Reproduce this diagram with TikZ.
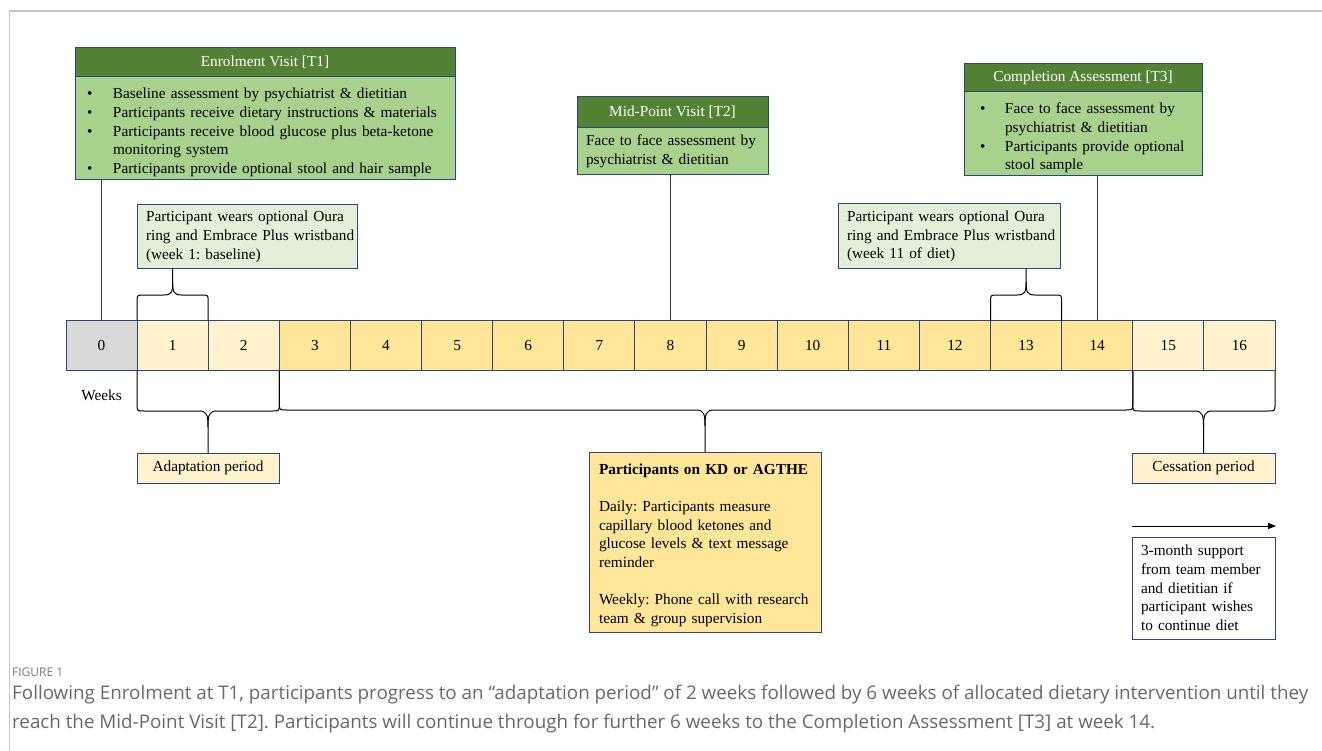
\documentclass[tikz,border=0pt]{standalone}
\usepackage{fontspec}
\setmainfont{Liberation Serif}
\newfontfamily\capfont{Open Sans}
\usetikzlibrary{calc,arrows.meta}

\definecolor{hdgreen}{HTML}{548235}
\definecolor{bdgreen}{HTML}{A9D18E}
\definecolor{ltgreen}{HTML}{E2F0D9}
\definecolor{navy}{HTML}{2A467C}
\definecolor{cgrey}{HTML}{D9D9D9}
\definecolor{lyellow}{HTML}{FFF2CC}
\definecolor{dyellow}{HTML}{FFE699}
\definecolor{framegrey}{HTML}{C4C4C4}
\definecolor{captxt}{HTML}{686868}
\definecolor{linegrey}{HTML}{3A3A3A}

\newcommand{\mytxt}{\fontsize{15.3}{18.7}\selectfont\frenchspacing}
\newcommand{\bul}[2][26pt]{\par\hangindent=#1\hangafter=1\noindent\makebox[#1][l]{\textbullet}#2\par}

% brace with tip above (#3), ends at #1 and #2 below
\newcommand{\upbr}[3]{%
  \draw[brc] (#1) -- ($(#1 |- #3)+(0,33)$) .. controls ($(#1 |- #3)+(0,26)$) .. ($(#1 |- #3)+(7,26)$)
     -- ($(#3)+(-9,26)$) .. controls ($(#3)+(-1,26)$) and ($(#3)+(0,23)$) .. ($(#3)+(0,13)$) -- (#3);
  \draw[brc] (#2) -- ($(#2 |- #3)+(0,33)$) .. controls ($(#2 |- #3)+(0,26)$) .. ($(#2 |- #3)+(-7,26)$)
     -- ($(#3)+(9,26)$) .. controls ($(#3)+(1,26)$) and ($(#3)+(0,23)$) .. ($(#3)+(0,13)$);
}
% brace with tip below (#3), ends at #1 and #2 above
\newcommand{\dnbr}[3]{%
  \draw[brc] (#1) -- ($(#1 |- #3)+(0,-49)$) .. controls ($(#1 |- #3)+(0,-42)$) .. ($(#1 |- #3)+(7,-42)$)
     -- ($(#3)+(-9,-42)$) .. controls ($(#3)+(-1,-42)$) and ($(#3)+(0,-38)$) .. ($(#3)+(0,-26)$) -- (#3);
  \draw[brc] (#2) -- ($(#2 |- #3)+(0,-49)$) .. controls ($(#2 |- #3)+(0,-42)$) .. ($(#2 |- #3)+(-7,-42)$)
     -- ($(#3)+(9,-42)$) .. controls ($(#3)+(1,-42)$) and ($(#3)+(0,-38)$) .. ($(#3)+(0,-26)$);
}

\begin{document}
\begin{tikzpicture}[x=1pt,y=-1pt,
  box/.style={draw=navy, line width=1pt, inner sep=0pt, outer sep=0pt, font=\mytxt},
  hdr/.style={box, fill=hdgreen, text=white, anchor=north west},
  gbody/.style={box, fill=bdgreen, anchor=north west, align=left},
  note/.style={box, anchor=north west, align=left, inner xsep=9pt},
  cell/.style={box, minimum width=71.118pt, minimum height=50.5pt},
  conn/.style={draw=linegrey, line width=1.2pt},
  brc/.style={draw=black, line width=1pt},
]
\useasboundingbox (0,0) rectangle (1322,751);
\fill[white] (0,0) rectangle (1322,751);
\draw[framegrey, line width=1.5pt] (9.5,751) -- (9.5,11) -- (1322,11);

% timeline
\foreach \i/\col in {0/cgrey,1/lyellow,2/lyellow,3/dyellow,4/dyellow,5/dyellow,6/dyellow,7/dyellow,8/dyellow,9/dyellow,10/dyellow,11/dyellow,12/dyellow,13/dyellow,14/dyellow,15/lyellow,16/lyellow}
  \node[cell, fill=\col] (c\i) at ({66+71.118*(\i+0.5)}, 345.5) {\i};

\node[font=\mytxt, inner sep=0pt] (weeks) at (101.5,395) {Weeks};

% Enrolment
\node[hdr, minimum width=380pt, minimum height=29pt] (enrolhead) at (75,48) {Enrolment Visit [T1]};
\node[gbody, minimum width=380pt, minimum height=103pt, text width=356pt, inner xsep=12pt] (enrolbody) at (enrolhead.south west) {%
\bul{Baseline assessment by psychiatrist \& dietitian}
\bul{Participants receive dietary instructions \& materials}
\bul{Participants receive blood glucose plus beta-ketone\newline monitoring system}
\bul{Participants provide optional stool and hair sample}};

% Mid-point
\node[hdr, minimum width=191pt, minimum height=31pt] (midhead) at (577,97) {Mid-Point Visit [T2]};
\node[gbody, minimum width=191pt, minimum height=47pt, text width=173pt, inner xsep=9pt] (midbody) at (midhead.south west) {\mbox{Face to face assessment by}\\psychiatrist \& dietitian};

% Completion
\node[hdr, minimum width=238pt, minimum height=28pt] (comphead) at (964,64) {Completion Assessment [T3]};
\node[gbody, minimum width=238pt, minimum height=84pt, text width=206pt, inner xsep=16pt] (compbody) at (comphead.south west) {%
\bul[25pt]{Face to face assessment by\newline psychiatrist \& dietitian}
\bul[25pt]{\mbox{Participants provide optional}\newline stool sample}};

% Oura boxes
\node[note, fill=ltgreen, minimum width=220pt, minimum height=64pt, text width=202pt] (oura1) at (137,205) {\mbox{Participant wears optional Oura}\\\mbox{ring and Embrace Plus wristband}\\(week 1: baseline)};
\node[note, fill=ltgreen, minimum width=222pt, minimum height=65pt, text width=204pt] (oura2) at (838,204) {\mbox{Participant wears optional Oura}\\\mbox{ring and Embrace Plus wristband}\\(week 11 of diet)};

% bottom boxes
\node[box, fill=lyellow, minimum width=142pt, minimum height=30pt] (adapt) at (208,468) {Adaptation period};
\node[box, fill=lyellow, minimum width=143pt, minimum height=30pt] (cess) at (1203.5,468) {Cessation period};
\node[note, fill=dyellow, minimum width=232pt, minimum height=180pt, text width=212pt, inner xsep=10pt] (kd) at (589,452) {\rule{0pt}{17pt}\textbf{Participants on KD or AGTHE}\\[18.7pt]Daily: Participants measure\\capillary blood ketones and\\\mbox{glucose levels \& text message}\\reminder\\[18.7pt]\mbox{Weekly: Phone call with research}\\team \& group supervision};
\node[note, fill=white, minimum width=143pt, minimum height=102pt, text width=125pt] (support) at (1132,537) {3-month support\\\mbox{from team member}\\and dietitian if\\\mbox{participant wishes}\\to continue diet};

% connectors
\draw[conn] (enrolbody.south -| c0.north) -- (c0.north);
\draw[conn] (midbody.south -| c8.north) -- (c8.north);
\draw[conn] (compbody.south -| c14.north) -- (c14.north);

\coordinate (tip1) at (oura1.south -| c1.north);
\coordinate (tip2) at (oura2.south -| c13.north);
\upbr{c1.north west}{c1.north east}{tip1}
\upbr{c13.north west}{c13.north east}{tip2}
\dnbr{c1.south west}{c2.south east}{adapt.north}
\dnbr{c3.south west}{c14.south east}{kd.north}
\dnbr{c15.south west}{c16.south east}{cess.north}

\coordinate (arrS) at (1132,526);
\coordinate (arrE) at (1276,526);
\draw[line width=1pt, -{Triangle[length=8pt,width=6pt]}] (arrS) -- (arrE);

% caption
\node[anchor=west, inner sep=0pt, font=\capfont\fontsize{12}{14}\selectfont, text=captxt!90] (figlbl) at (12,672) {FIGURE 1};
\node[anchor=north west, inner sep=0pt, align=left, font=\capfont\fontsize{18.8}{29}\selectfont\frenchspacing, text=captxt] (cap) at (12,685) {Following Enrolment at T1, participants progress to an “adaptation period” of 2 weeks followed by 6 weeks of allocated dietary intervention until they\\reach the Mid-Point Visit [T2]. Participants will continue through for further 6 weeks to the Completion Assessment [T3] at week 14.};
\end{tikzpicture}
\end{document}
